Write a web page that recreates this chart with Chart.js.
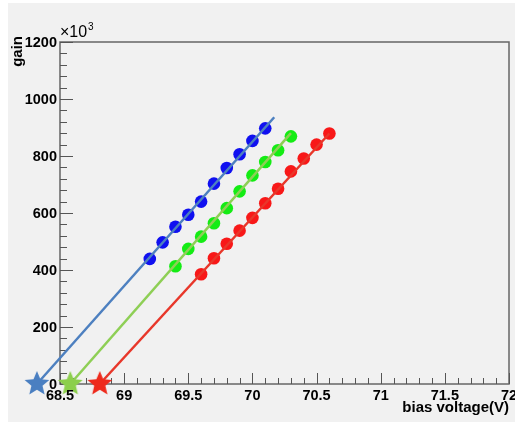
<!DOCTYPE html>
<html>
<head>
<meta charset="utf-8">
<script src="https://cdn.jsdelivr.net/npm/chart.js@4"></script>
<style>
  html, body { margin: 0; padding: 0; background: #fff; }
  canvas { display: block; }
</style>
</head>
<body>
<canvas id="gainChart" width="515" height="424"></canvas>
<script>
// measured gain (x10^3) vs bias voltage for the three sensors
var blueVolt = [69.2, 69.3, 69.4, 69.5, 69.6, 69.7, 69.8, 69.9, 70.0, 70.1];
var blueGain = [439, 497, 552, 594, 640, 703, 758, 806, 853, 897];
var greenVolt = [69.4, 69.5, 69.6, 69.7, 69.8, 69.9, 70.0, 70.1, 70.2, 70.3];
var greenGain = [413, 474, 517, 564, 617, 676, 732, 779, 820, 869];
var redVolt = [69.6, 69.7, 69.8, 69.9, 70.0, 70.1, 70.2, 70.3, 70.4, 70.5, 70.6];
var redGain = [385, 441, 492, 538, 583, 634, 685, 746, 791, 840, 879];

// linear fits: [volt, gain] at breakdown (gain 0) and at the upper end
var blueFit = [[68.32, 0], [70.17, 936]];
var greenFit = [[68.58, 0], [70.30, 880]];
var redFit = [[68.81, 0], [70.60, 879]];

var xTicks = [68.5, 69, 69.5, 70, 70.5, 71, 71.5, 72];
var xTickLabels = ["68.5", "69", "69.5", "70", "70.5", "71", "71.5", "72"];
var yTicks = [0, 200, 400, 600, 800, 1000, 1200];
var yTickLabels = ["0", "200", "400", "600", "800", "1000", "1200"];

function toPoints(xs, ys) {
    return xs.map(function (x, i) { return { x: x, y: ys[i] }; });
}
function fitPoints(fit) {
    return fit.map(function (p) { return { x: p[0], y: p[1] }; });
}

// filled five-pointed star used as the breakdown marker
function makeStar(color) {
    var r = 13;
    var c = document.createElement("canvas");
    c.width = c.height = 2 * r + 2;
    var g = c.getContext("2d");
    g.fillStyle = color;
    g.beginPath();
    for (var i = 0; i < 10; i++) {
        var rad = i % 2 ? r * 0.45 : r;
        var a = -Math.PI / 2 + i * Math.PI / 5;
        g.lineTo(r + 1 + rad * Math.cos(a), r + 1 + rad * Math.sin(a));
    }
    g.closePath();
    g.fill();
    return c;
}

function starSet(fit, color) {
    // big radius keeps the marker drawn when it sits left of the plot area
    return { data: fitPoints(fit).slice(0, 1), pointStyle: makeStar(color), pointRadius: 30, order: 0, clip: false };
}
function lineSet(fit, color) {
    return { data: fitPoints(fit), showLine: true, borderColor: color, borderWidth: 2.5, pointRadius: 0, order: 1, clip: false };
}
function dotSet(xs, ys, color) {
    return { data: toPoints(xs, ys), backgroundColor: color, pointRadius: 6.3, borderWidth: 0, order: 2 };
}

var font = "'Liberation Sans', Arial, sans-serif";

var framePlugin = {
    id: "frame",
    beforeDraw: function (chart) {
        var c = chart.ctx;
        c.save();
        c.fillStyle = "#ffffff";
        c.fillRect(0, 0, chart.width, chart.height);
        c.fillStyle = "#f1f1f1";
        c.fillRect(8, 3, chart.width - 8, 419);
        c.restore();
    },
    beforeDatasetsDraw: function (chart) {
        var c = chart.ctx, a = chart.chartArea;
        var xs = chart.scales.x, ys = chart.scales.y;
        c.save();
        c.strokeStyle = "#666";
        c.lineWidth = 1.5;
        c.strokeRect(a.left, a.top, a.right - a.left, a.bottom - a.top);

        c.lineWidth = 1;
        c.strokeStyle = "#555";
        c.beginPath();
        // x ticks every 0.1 V, major every 0.5 V
        for (var i = 0; i <= 35; i++) {
            var px = Math.round(xs.getPixelForValue(68.5 + i * 0.1)) + 0.5;
            var len = i % 5 === 0 ? 11 : 6;
            c.moveTo(px, a.bottom);
            c.lineTo(px, a.bottom - len);
        }
        // y ticks every 40, major every 200
        for (var j = 0; j <= 30; j++) {
            var py = Math.round(ys.getPixelForValue(j * 40)) + 0.5;
            var l = j % 5 === 0 ? 13 : 7;
            c.moveTo(a.left, py);
            c.lineTo(a.left + l, py);
        }
        c.stroke();
        c.restore();
    },
    afterDraw: function (chart) {
        var c = chart.ctx, a = chart.chartArea;
        var xs = chart.scales.x, ys = chart.scales.y;
        c.save();
        c.fillStyle = "#000";
        c.font = "bold 14.5px " + font;

        c.textAlign = "center";
        c.textBaseline = "middle";
        xTicks.forEach(function (v, i) {
            c.fillText(xTickLabels[i], xs.getPixelForValue(v), a.bottom + 12);
        });

        c.textAlign = "right";
        yTicks.forEach(function (v, i) {
            c.fillText(yTickLabels[i], a.left - 3, ys.getPixelForValue(v) + 1);
        });

        // axis titles
        c.font = "bold 15px " + font;
        c.textBaseline = "alphabetic";
        c.fillText("bias voltage(V)", a.right, a.bottom + 28);

        c.save();
        c.translate(22, 36);
        c.rotate(-Math.PI / 2);
        c.textAlign = "right";
        c.fillText("gain", 0, 0);
        c.restore();

        // exponent label above the y axis
        c.textAlign = "left";
        c.font = "16px " + font;
        c.fillText("\u00d710", a.left, a.top - 5);
        c.font = "10px " + font;
        c.fillText("3", a.left + 28, a.top - 12);
        c.restore();
    }
};

var ctx = document.getElementById("gainChart").getContext("2d");

var chart = new Chart(ctx, {
    type: "scatter",
    data: {
        datasets: [
            starSet(blueFit, "#4a7fc1"),
            starSet(greenFit, "#8ccf4c"),
            starSet(redFit, "#ee2a1c"),
            lineSet(blueFit, "#4d80c0"),
            lineSet(greenFit, "#8ecf55"),
            lineSet(redFit, "#e8372a"),
            dotSet(blueVolt, blueGain, "#1010f0"),
            dotSet(greenVolt, greenGain, "#14ec14"),
            dotSet(redVolt, redGain, "#f81818"),
        ],
    },
    options: {
        responsive: false,
        animation: false,
        events: [],
        layout: { autoPadding: false, padding: { left: 60, right: 6, top: 42, bottom: 40 } },
        plugins: { legend: { display: false }, tooltip: { enabled: false } },
        scales: {
            x: { type: "linear", display: false, min: 68.5, max: 72 },
            y: { type: "linear", display: false, min: 0, max: 1200 },
        },
    },
    plugins: [framePlugin],
});
</script>
</body>
</html>
